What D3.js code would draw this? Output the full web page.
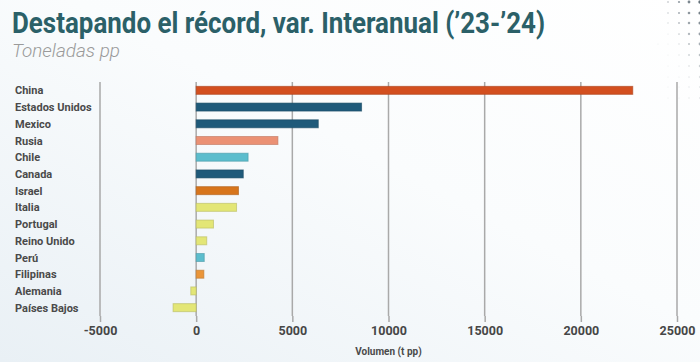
<!DOCTYPE html>
<html>
<head>
<meta charset="utf-8">
<script src="https://cdn.jsdelivr.net/npm/d3@7"></script>
<style>
  body { margin: 0; background: #fff; }
  svg { display: block; }
  text { font-family: Roboto, "Noto Sans", sans-serif; }
</style>
</head>
<body>
<div id="chart"></div>
<script>
var width = 700, height = 362;

var paises = ["China", "Estados Unidos", "Mexico", "Rusia", "Chile", "Canada", "Israel",
              "Italia", "Portugal", "Reino Unido", "Perú", "Filipinas", "Alemania", "Países Bajos"];
var variacion = [22700, 8600, 6350, 4250, 2700, 2450, 2200, 2100, 900, 550, 420, 400, -280, -1200];
var colores = ["#d34f1f", "#1f5a7a", "#1f5a7a", "#eb9174", "#5cbdcd", "#1f5a7a", "#d7751c",
               "#e3e676", "#e3e676", "#e3e676", "#5cbdcd", "#ea9539", "#e3e676", "#e3e676"];
var ticks = [-5000, 0, 5000, 10000, 15000, 20000, 25000];

var svg = d3.select("#chart").append("svg")
    .attr("width", width)
    .attr("height", height);

// fondo degradado
var defs = svg.append("defs");
var grad = defs.append("linearGradient")
    .attr("id", "bg")
    .attr("x1", "0%").attr("y1", "100%")
    .attr("x2", "100%").attr("y2", "0%");
grad.append("stop").attr("offset", "0%").attr("stop-color", "#e9f0f5");
grad.append("stop").attr("offset", "55%").attr("stop-color", "#fafcfd");
grad.append("stop").attr("offset", "100%").attr("stop-color", "#ffffff");
svg.append("rect").attr("width", width).attr("height", height).attr("fill", "url(#bg)");

// puntos decorativos arriba a la derecha
var dotCols = [658, 668, 679, 689, 700];
var dotRows = [2, 13, 23, 34, 44, 55, 66, 77, 87, 98];
dotRows.forEach(function(y, i) {
    dotCols.forEach(function(x, j) {
        if (j === 0 && i !== 4) return;
        var r = 0.5 + j * 0.3 - i * 0.08;
        var op = Math.max(0.12, 0.8 - i * 0.09 - (4 - j) * 0.13);
        svg.append("circle")
            .attr("cx", x).attr("cy", y)
            .attr("r", Math.max(0.5, r))
            .attr("fill", "#3c4c58")
            .attr("opacity", op);
    });
});

// titulo
svg.append("text")
    .attr("x", 12).attr("y", 33)
    .attr("textLength", 533)
    .attr("lengthAdjust", "spacingAndGlyphs")
    .style("font-size", "29px")
    .style("font-weight", "bold")
    .style("fill", "#2b6068")
    .text("Destapando el récord, var. Interanual (’23-’24)");

svg.append("text")
    .attr("x", 12).attr("y", 57)
    .attr("textLength", 108)
    .attr("lengthAdjust", "spacingAndGlyphs")
    .style("font-size", "19px")
    .style("font-style", "italic")
    .style("font-weight", 300)
    .style("fill", "#9a9a9a")
    .text("Toneladas pp");

var x = d3.scaleLinear()
    .domain([-5000, 25000])
    .range([100, 677]);

var y = d3.scaleBand()
    .domain(paises)
    .range([82, 316])
    .paddingInner(0.5)
    .paddingOuter(0.25);

// lineas de cuadricula y eje
var xAxis = d3.axisBottom(x)
    .tickValues(ticks)
    .tickSize(6)
    .tickFormat(d => String(d));

var gx = svg.append("g")
    .attr("transform", "translate(0,316)")
    .call(xAxis);
gx.select(".domain").remove();
gx.selectAll(".tick line").attr("stroke", "#a9a9a9").attr("stroke-width", 1.5);
gx.selectAll(".tick text")
    .attr("dy", 0)
    .attr("y", 19)
    .style("font-size", "12.5px")
    .style("font-weight", "bold")
    .style("fill", "#464646")
    .style("font-family", "Roboto, sans-serif");

svg.append("g").selectAll("line")
    .data(ticks)
    .enter()
    .append("line")
    .attr("x1", d => x(d)).attr("x2", d => x(d))
    .attr("y1", 82).attr("y2", 316)
    .attr("stroke", "#a9a9a9")
    .attr("stroke-width", 1.5);

// barras
svg.append("g").selectAll("rect")
    .data(paises)
    .enter()
    .append("rect")
    .attr("x", (d, i) => x(Math.min(0, variacion[i])))
    .attr("y", d => y(d) + y.bandwidth() / 2 - 4)
    .attr("width", (d, i) => Math.abs(x(variacion[i]) - x(0)))
    .attr("height", 8)
    .attr("fill", (d, i) => colores[i])
    .attr("stroke", (d, i) => d3.color(colores[i]).darker(0.6))
    .attr("stroke-opacity", 0.6)
    .attr("stroke-width", 1);

// etiquetas de paises
svg.append("g").selectAll("text")
    .data(paises)
    .enter()
    .append("text")
    .attr("x", 15)
    .attr("y", d => y(d) + y.bandwidth() / 2 + 4)
    .style("font-size", "11px")
    .style("font-weight", "bold")
    .style("fill", "#4a4a4a")
    .text(d => d);

svg.append("text")
    .attr("x", x(10000))
    .attr("y", 355)
    .attr("text-anchor", "middle")
    .style("font-size", "10px")
    .style("font-weight", "bold")
    .style("fill", "#4a4a4a")
    .text("Volumen (t pp)");
</script>
</body>
</html>
